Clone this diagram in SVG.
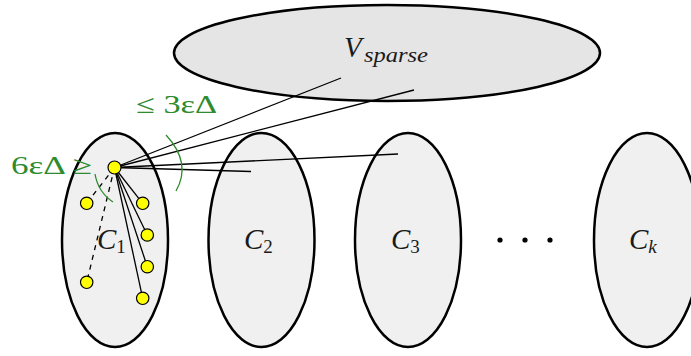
<svg xmlns="http://www.w3.org/2000/svg" width="691" height="356" viewBox="0 0 691 356">
<style>
.cl{fill:#f0f0f0;stroke:#000;stroke-width:2.5}
.vs{fill:#e5e5e5;stroke:#000;stroke-width:2.5}
.e{stroke:#000;stroke-width:1.3;fill:none}
.d{stroke:#000;stroke-width:1.3;fill:none;stroke-dasharray:5 5}
.g{stroke:#2e8b2e;stroke-width:1.3;fill:none}
.n{fill:#ffff00;stroke:#000;stroke-width:1.2}
.m{font-family:"Liberation Serif",serif;font-size:29px;fill:#1a1a1a}
.gt{font-family:"Liberation Serif","DejaVu Serif",serif;font-size:26px;fill:#2e8b2e}
</style>
<g id="vsparse"><ellipse class="vs" cx="387" cy="53" rx="213" ry="48"/>
<text class="m" x="344" y="57"><tspan font-style="italic">V</tspan><tspan font-style="italic" font-size="21" x="364" y="61.5" textLength="64" lengthAdjust="spacingAndGlyphs">sparse</tspan></text></g>
<g id="C1"><ellipse class="cl" cx="115" cy="240" rx="53" ry="107"/>
<text class="m" x="97" y="249"><tspan font-style="italic">C</tspan><tspan font-size="19" dy="4">1</tspan></text></g>
<g id="C2"><ellipse class="cl" cx="261.5" cy="240" rx="53" ry="107"/>
<text class="m" x="244" y="249"><tspan font-style="italic">C</tspan><tspan font-size="19" dy="4">2</tspan></text></g>
<g id="C3"><ellipse class="cl" cx="408" cy="240" rx="53" ry="107"/>
<text class="m" x="391" y="249"><tspan font-style="italic">C</tspan><tspan font-size="19" dy="4">3</tspan></text></g>
<g id="Ck"><ellipse class="cl" cx="647" cy="240" rx="53" ry="107"/>
<text class="m" x="629" y="249"><tspan font-style="italic">C</tspan><tspan font-style="italic" font-size="19" dy="4">k</tspan></text></g>
<g id="dots"><circle cx="500" cy="240" r="2.6"/><circle cx="525" cy="240" r="2.6"/><circle cx="550" cy="240" r="2.6"/></g>
<g id="connectors">
<line class="e" x1="114.5" y1="167.5" x2="341" y2="78"/>
<line class="e" x1="114.5" y1="167.5" x2="414" y2="90"/>
<line class="e" x1="114.5" y1="167.5" x2="398" y2="154"/>
<line class="e" x1="114.5" y1="167.5" x2="251" y2="171.5"/>
<line class="e" x1="114.5" y1="167.5" x2="142.7" y2="203.3"/>
<line class="e" x1="114.5" y1="167.5" x2="147.3" y2="235"/>
<line class="e" x1="114.5" y1="167.5" x2="147.3" y2="266.7"/>
<line class="e" x1="114.5" y1="167.5" x2="142.7" y2="298.3"/>
<line class="d" x1="114.5" y1="167.5" x2="86.7" y2="203.3"/>
<line class="d" x1="114.5" y1="167.5" x2="86.7" y2="282.3"/>
</g>
<g id="arcs">
<path class="g" d="M166,135 Q192,163 176,191"/>
<path class="g" d="M95,174 Q98,192 113,202"/>
</g>
<g id="labels">
<text class="gt" x="136" y="113" textLength="81" lengthAdjust="spacingAndGlyphs">≤ 3εΔ</text>
<text class="gt" x="11" y="174" textLength="81" lengthAdjust="spacingAndGlyphs">6εΔ ≥</text>
</g>
<g id="nodes">
<circle class="n" cx="114.5" cy="167.5" r="6.5"/>
<circle class="n" cx="86.7" cy="203.3" r="6.2"/>
<circle class="n" cx="142.7" cy="203.3" r="6.2"/>
<circle class="n" cx="147.3" cy="235" r="6.2"/>
<circle class="n" cx="147.3" cy="266.7" r="6.2"/>
<circle class="n" cx="86.7" cy="282.3" r="6.2"/>
<circle class="n" cx="142.7" cy="298.3" r="6.2"/>
</g>
</svg>
